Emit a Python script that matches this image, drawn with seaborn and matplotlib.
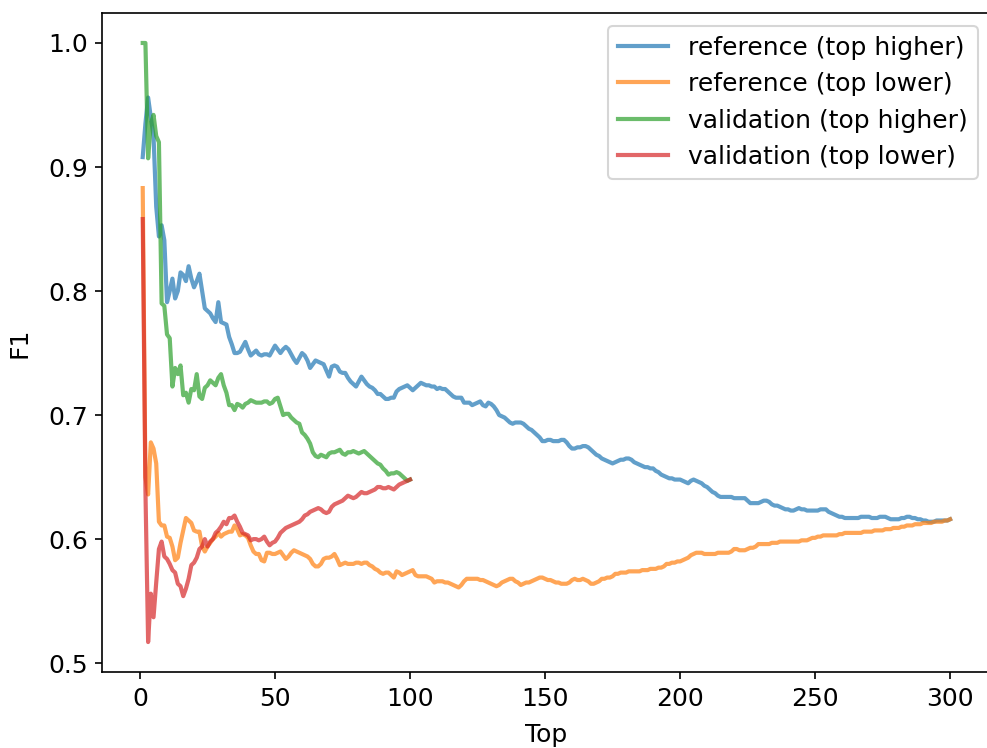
import pandas as pd
import seaborn as sns
import matplotlib.pyplot as plt

# F1 values, one per "top" value
ref_higher = [
    0.908, 0.935, 0.956, 0.940, 0.925, 0.868, 0.844, 0.853, 0.841, 0.791,
    0.800, 0.810, 0.794, 0.800, 0.815, 0.813, 0.808, 0.820, 0.810, 0.803,
    0.808, 0.814, 0.800, 0.786, 0.784, 0.782, 0.778, 0.775, 0.791, 0.775,
    0.774, 0.773, 0.763, 0.757, 0.750, 0.750, 0.751, 0.755, 0.759, 0.753,
    0.748, 0.750, 0.752, 0.749, 0.748, 0.749, 0.749, 0.748, 0.752, 0.756,
    0.753, 0.750, 0.753, 0.755, 0.753, 0.749, 0.745, 0.742, 0.746, 0.750,
    0.748, 0.744, 0.738, 0.741, 0.744, 0.743, 0.742, 0.741, 0.736, 0.731,
    0.739, 0.740, 0.739, 0.735, 0.734, 0.734, 0.730, 0.727, 0.725, 0.723,
    0.727, 0.731, 0.728, 0.725, 0.723, 0.722, 0.720, 0.717, 0.717, 0.715,
    0.713, 0.713, 0.714, 0.714, 0.719, 0.721, 0.722, 0.723, 0.724, 0.722,
    0.720, 0.722, 0.724, 0.726, 0.725, 0.724, 0.724, 0.723, 0.723, 0.721,
    0.722, 0.721, 0.721, 0.719, 0.717, 0.715, 0.714, 0.714, 0.714, 0.710,
    0.710, 0.710, 0.708, 0.709, 0.710, 0.711, 0.708, 0.707, 0.710, 0.709,
    0.707, 0.704, 0.700, 0.699, 0.698, 0.696, 0.694, 0.693, 0.694, 0.694,
    0.694, 0.693, 0.691, 0.689, 0.688, 0.686, 0.684, 0.682, 0.679, 0.679,
    0.680, 0.680, 0.679, 0.679, 0.679, 0.680, 0.680, 0.678, 0.675, 0.673,
    0.673, 0.674, 0.674, 0.675, 0.675, 0.674, 0.672, 0.670, 0.668, 0.667,
    0.665, 0.664, 0.663, 0.662, 0.661, 0.662, 0.663, 0.664, 0.664, 0.665,
    0.665, 0.664, 0.662, 0.661, 0.660, 0.659, 0.658, 0.658, 0.657, 0.657,
    0.655, 0.654, 0.652, 0.651, 0.650, 0.649, 0.649, 0.648, 0.648, 0.648,
    0.647, 0.646, 0.645, 0.647, 0.648, 0.647, 0.646, 0.645, 0.643, 0.642,
    0.640, 0.638, 0.637, 0.635, 0.634, 0.634, 0.634, 0.634, 0.634, 0.633,
    0.633, 0.633, 0.633, 0.633, 0.631, 0.629, 0.629, 0.629, 0.629, 0.630,
    0.631, 0.631, 0.630, 0.628, 0.627, 0.627, 0.626, 0.625, 0.624, 0.624,
    0.623, 0.623, 0.624, 0.625, 0.624, 0.624, 0.623, 0.623, 0.623, 0.623,
    0.623, 0.624, 0.624, 0.624, 0.622, 0.621, 0.620, 0.619, 0.618, 0.618,
    0.617, 0.617, 0.617, 0.617, 0.617, 0.617, 0.618, 0.618, 0.618, 0.618,
    0.617, 0.617, 0.617, 0.618, 0.618, 0.618, 0.617, 0.616, 0.616, 0.616,
    0.616, 0.617, 0.617, 0.618, 0.618, 0.617, 0.617, 0.616, 0.616, 0.615,
    0.615, 0.614, 0.614, 0.614, 0.615, 0.615, 0.615, 0.615, 0.615, 0.616,
]

ref_lower = [
    0.883, 0.650, 0.636, 0.678, 0.673, 0.661, 0.614, 0.611, 0.611, 0.602,
    0.601, 0.594, 0.583, 0.585, 0.597, 0.607, 0.617, 0.615, 0.613, 0.607,
    0.606, 0.606, 0.594, 0.590, 0.594, 0.597, 0.600, 0.602, 0.605, 0.602,
    0.604, 0.605, 0.606, 0.606, 0.611, 0.608, 0.603, 0.604, 0.603, 0.601,
    0.595, 0.590, 0.588, 0.588, 0.583, 0.582, 0.589, 0.589, 0.588, 0.588,
    0.589, 0.590, 0.587, 0.584, 0.586, 0.589, 0.591, 0.590, 0.589, 0.588,
    0.587, 0.586, 0.584, 0.580, 0.578, 0.578, 0.580, 0.584, 0.585, 0.585,
    0.586, 0.588, 0.584, 0.579, 0.580, 0.581, 0.580, 0.580, 0.580, 0.581,
    0.581, 0.580, 0.581, 0.581, 0.579, 0.578, 0.576, 0.575, 0.573, 0.572,
    0.573, 0.573, 0.571, 0.569, 0.574, 0.573, 0.571, 0.572, 0.573, 0.574,
    0.575, 0.571, 0.570, 0.570, 0.570, 0.570, 0.569, 0.568, 0.565, 0.566,
    0.566, 0.566, 0.565, 0.565, 0.564, 0.563, 0.562, 0.561, 0.563, 0.566,
    0.568, 0.568, 0.568, 0.568, 0.568, 0.567, 0.567, 0.566, 0.565, 0.564,
    0.563, 0.562, 0.563, 0.565, 0.566, 0.567, 0.568, 0.568, 0.566, 0.565,
    0.563, 0.564, 0.565, 0.565, 0.566, 0.567, 0.568, 0.569, 0.569, 0.568,
    0.567, 0.567, 0.566, 0.565, 0.565, 0.564, 0.564, 0.564, 0.565, 0.567,
    0.568, 0.567, 0.567, 0.568, 0.567, 0.566, 0.564, 0.564, 0.565, 0.566,
    0.568, 0.568, 0.569, 0.569, 0.570, 0.572, 0.572, 0.573, 0.573, 0.573,
    0.574, 0.574, 0.574, 0.574, 0.574, 0.575, 0.575, 0.575, 0.576, 0.576,
    0.576, 0.577, 0.577, 0.578, 0.580, 0.580, 0.581, 0.581, 0.582, 0.582,
    0.583, 0.584, 0.585, 0.587, 0.588, 0.589, 0.589, 0.589, 0.588, 0.588,
    0.588, 0.588, 0.588, 0.589, 0.589, 0.589, 0.589, 0.589, 0.590, 0.592,
    0.592, 0.591, 0.591, 0.591, 0.592, 0.593, 0.593, 0.594, 0.596, 0.596,
    0.596, 0.596, 0.596, 0.597, 0.597, 0.597, 0.598, 0.598, 0.598, 0.598,
    0.598, 0.598, 0.598, 0.598, 0.599, 0.599, 0.599, 0.600, 0.601, 0.601,
    0.602, 0.602, 0.603, 0.603, 0.603, 0.603, 0.603, 0.603, 0.604, 0.604,
    0.605, 0.605, 0.605, 0.605, 0.605, 0.605, 0.605, 0.606, 0.606, 0.606,
    0.606, 0.607, 0.607, 0.607, 0.607, 0.608, 0.608, 0.608, 0.609, 0.609,
    0.609, 0.610, 0.610, 0.611, 0.611, 0.611, 0.612, 0.612, 0.612, 0.613,
    0.613, 0.613, 0.613, 0.614, 0.614, 0.614, 0.614, 0.615, 0.615, 0.616,
]

val_higher = [
    1.000, 1.000, 0.907, 0.935, 0.942, 0.925, 0.920, 0.790, 0.788, 0.765,
    0.762, 0.723, 0.738, 0.733, 0.740, 0.716, 0.718, 0.710, 0.721, 0.720,
    0.733, 0.715, 0.713, 0.722, 0.724, 0.728, 0.726, 0.724, 0.730, 0.733,
    0.724, 0.718, 0.708, 0.708, 0.704, 0.709, 0.708, 0.706, 0.709, 0.710,
    0.712, 0.711, 0.710, 0.710, 0.710, 0.711, 0.711, 0.709, 0.710, 0.713,
    0.714, 0.707, 0.700, 0.701, 0.701, 0.698, 0.696, 0.694, 0.693, 0.686,
    0.684, 0.681, 0.677, 0.670, 0.667, 0.666, 0.668, 0.667, 0.666, 0.669,
    0.670, 0.670, 0.671, 0.672, 0.669, 0.668, 0.670, 0.670, 0.671, 0.670,
    0.669, 0.670, 0.671, 0.669, 0.667, 0.665, 0.663, 0.661, 0.660, 0.657,
    0.655, 0.652, 0.653, 0.653, 0.654, 0.653, 0.651, 0.649, 0.647, 0.648,
]

val_lower = [
    0.858, 0.640, 0.517, 0.556, 0.537, 0.565, 0.592, 0.598, 0.586, 0.584,
    0.580, 0.575, 0.573, 0.564, 0.562, 0.554, 0.560, 0.568, 0.579, 0.581,
    0.585, 0.592, 0.594, 0.600, 0.594, 0.598, 0.600, 0.605, 0.607, 0.610,
    0.614, 0.612, 0.617, 0.617, 0.619, 0.614, 0.610, 0.605, 0.604, 0.603,
    0.599, 0.600, 0.600, 0.599, 0.600, 0.602, 0.598, 0.595, 0.597, 0.598,
    0.601, 0.605, 0.607, 0.609, 0.610, 0.611, 0.612, 0.613, 0.614, 0.616,
    0.619, 0.620, 0.622, 0.623, 0.624, 0.625, 0.624, 0.622, 0.621, 0.622,
    0.626, 0.628, 0.629, 0.630, 0.631, 0.633, 0.635, 0.634, 0.633, 0.634,
    0.636, 0.638, 0.637, 0.637, 0.638, 0.639, 0.640, 0.642, 0.642, 0.641,
    0.641, 0.642, 0.641, 0.640, 0.642, 0.644, 0.645, 0.646, 0.647, 0.648,
]

series = [
    ('reference (top higher)', ref_higher),
    ('reference (top lower)', ref_lower),
    ('validation (top higher)', val_higher),
    ('validation (top lower)', val_lower),
]

plt.rcParams['font.size'] = 12

# Plotting the graphic using Seaborn on plain matplotlib style
fig = plt.figure(figsize=(987 / 150, 748 / 150), dpi=150)
ax = fig.add_axes([0.1037, 0.1016, 0.8998, 0.881])

for label, values in series:
    df = pd.DataFrame({'Top': range(1, len(values) + 1), 'F1': values})
    sns.lineplot(x='Top', y='F1', data=df, ax=ax, label=label, linewidth=2, alpha=0.7)

ax.set_xlabel('Top', labelpad=6)
ax.set_ylabel('F1', labelpad=8)
ax.set_xticks([0, 50, 100, 150, 200, 250, 300])
ax.legend(loc='upper right')

fig.savefig('out.png', dpi=150)
